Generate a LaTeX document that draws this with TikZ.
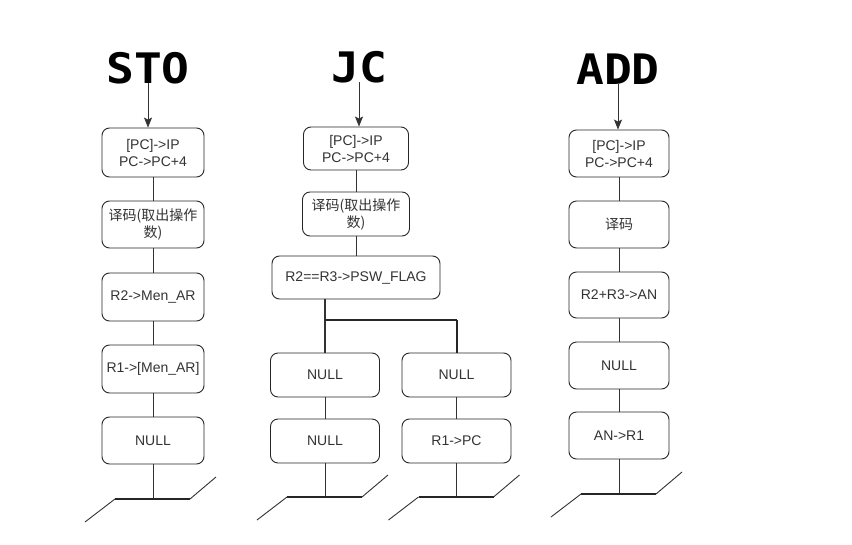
\documentclass[tikz,border=0pt]{standalone}
\usepackage{fontspec}
\setmainfont{Liberation Sans}
\newfontfamily\cjk{Noto Sans CJK SC}
\newfontfamily\titlefont{DejaVu Sans Mono}
\usetikzlibrary{arrows.meta}
\newcommand{\ttltext}[1]{\scalebox{1.1}[1]{#1}}
\begin{document}
\begin{tikzpicture}[x=1pt,y=-1pt,
  box/.style={draw=black!85, line width=0.9pt, rounded corners=7.5pt, align=center,
    inner sep=1pt, font=\fontsize{14}{17}\selectfont, text=black!80},
  ttl/.style={inner sep=0pt, font=\titlefont\bfseries\fontsize{42}{42}\selectfont},
  link/.style={draw=black!80, line width=0.9pt},
  arr/.style={link, -{Stealth[length=10pt,width=8pt,inset=2pt]}},
  thickbar/.style={draw=black!85, line width=2pt},
  ground/.pic={
    \draw[thickbar] (-38,0) -- (37,0);
    \draw[link] (-38,0) -- (-68,23);
    \draw[link] (37,0) -- (63,-22);
  }]
\useasboundingbox (0,0) rectangle (852,544);
\fill[white] (0,0) rectangle (852,544);

% ---------------- STO ----------------
\node[ttl, anchor=base] (t1) at (148,83) {\ttltext{STO}};
\node[box, minimum width=102pt, minimum height=49pt] (s1) at (153,152.5) {[PC]->IP\\PC->PC+4};
\node[box, minimum width=102pt, minimum height=47pt] (s2) at (153,224.5) {{\cjk 译码(取出操作}\\{\cjk 数)}};
\node[box, minimum width=102pt, minimum height=48pt] (s3) at (153,297) {R2->Men\_AR};
\node[box, minimum width=102pt, minimum height=48pt] (s4) at (153,369) {R1->[Men\_AR]};
\node[box, minimum width=102pt, minimum height=47pt] (s5) at (153,440.5) {NULL};
\coordinate (g1) at (153,499);
\draw[arr] (t1.base) -- (t1.base |- s1.north);
\draw[link] (s1) -- (s2);
\draw[link] (s2) -- (s3);
\draw[link] (s3) -- (s4);
\draw[link] (s4) -- (s5);
\draw[link] (s5) -- (g1);
\pic at (g1) {ground};

% ---------------- JC ----------------
\node[ttl, anchor=base] (t2) at (359,82) {\ttltext{JC}};
\node[box, minimum width=105pt, minimum height=43pt] (j1) at (356,148.5) {[PC]->IP\\PC->PC+4};
\node[box, minimum width=107pt, minimum height=44pt] (j2) at (356,214) {{\cjk 译码(取出操作}\\{\cjk 数)}};
\node[box, minimum width=168pt, minimum height=43pt] (j3) at (356,277.5) {R2==R3->PSW\_FLAG};
\node[box, minimum width=109pt, minimum height=44pt] (j4) at (325,375) {NULL};
\node[box, minimum width=109pt, minimum height=44pt] (j5) at (456.5,375) {NULL};
\node[box, minimum width=109pt, minimum height=44pt] (j6) at (325,441) {NULL};
\node[box, minimum width=109pt, minimum height=44pt] (j7) at (456.5,441) {R1->PC};
\coordinate (split) at (325,320);
\coordinate (g2) at (325,497);
\coordinate (g3) at (456.5,497);
\draw[arr] (t2.base) -- (t2.base |- j1.north);
\draw[link] (j1) -- (j2);
\draw[link] (j2) -- (j3);
\draw[link, line width=1.4pt] (j3.south -| j4) -- (j4.north);
\draw[thickbar] (split) -- (split -| j5);
\draw[thickbar] (split -| j5) -- (j5.north);
\draw[link] (j4) -- (j6);
\draw[link, line width=1.6pt] (j5) -- (j7);
\draw[link] (j6) -- (g2);
\draw[link] (j7) -- (g3);
\pic at (g2) {ground};
\pic at (g3) {ground};

% ---------------- ADD ----------------
\node[ttl, anchor=base] (t3) at (618,84) {\ttltext{ADD}};
\node[box, minimum width=100pt, minimum height=47pt] (a1) at (619,153.5) {[PC]->IP\\PC->PC+4};
\node[box, minimum width=100pt, minimum height=47pt] (a2) at (619,224.5) {\cjk 译码};
\node[box, minimum width=100pt, minimum height=46pt] (a3) at (619,295) {R2+R3->AN};
\node[box, minimum width=100pt, minimum height=47pt] (a4) at (619,365.5) {NULL};
\node[box, minimum width=100pt, minimum height=47pt] (a5) at (619,435.5) {AN->R1};
\coordinate (g4) at (619,494);
\draw[arr] (t3.base) -- (t3.base |- a1.north);
\draw[link] (a1) -- (a2);
\draw[link] (a2) -- (a3);
\draw[link] (a3) -- (a4);
\draw[link] (a4) -- (a5);
\draw[link] (a5) -- (g4);
\pic at (g4) {ground};
\end{tikzpicture}
\end{document}
